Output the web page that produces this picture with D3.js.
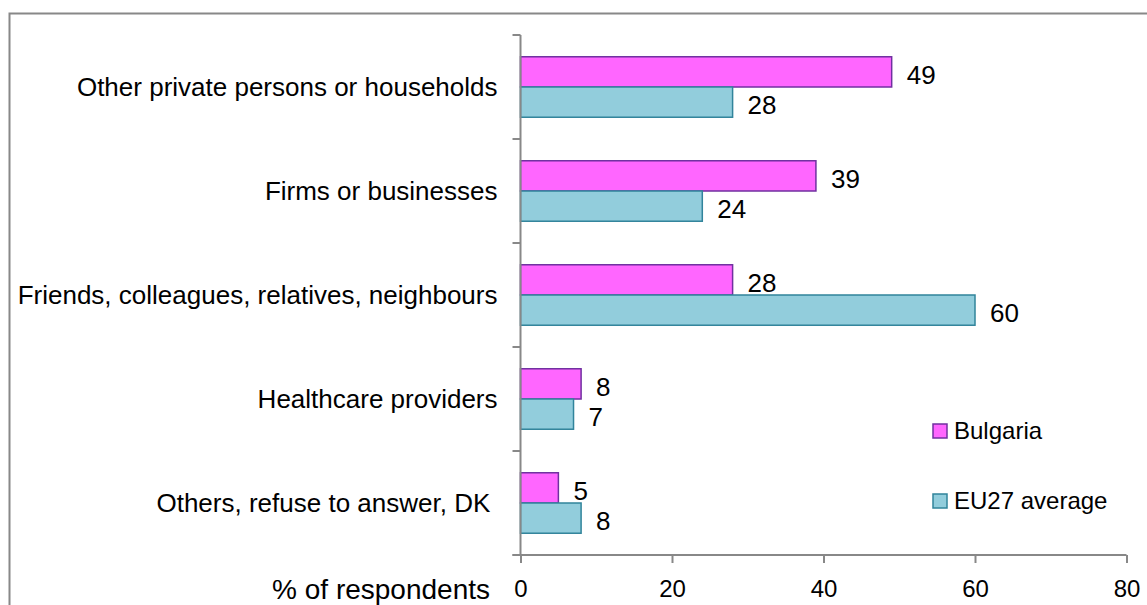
<!DOCTYPE html>
<html>
<head>
<meta charset="utf-8">
<script src="https://cdn.jsdelivr.net/npm/d3@7"></script>
<style>
  body { margin: 0; background: #fff; }
  svg { display: block; font-family: "Liberation Sans", Arial, sans-serif; }
</style>
</head>
<body>
<svg id="chart" width="1147" height="605"></svg>
<script>
var categories = [
    "Other private persons or households",
    "Firms or businesses",
    "Friends, colleagues, relatives, neighbours",
    "Healthcare providers",
    "Others, refuse to answer, DK "
];
var bulgariaValues = [49, 39, 28, 8, 5];
var euValues = [28, 24, 60, 7, 8];
var seriesNames = ["Bulgaria", "EU27 average"];
var xTicks = [0, 20, 40, 60, 80];
var axisTitle = "% of respondents";

document.addEventListener('DOMContentLoaded', function () {
    drawChart();
});

function drawChart() {
    const svg = d3.select('#chart');

    // outer frame (only top/left visible, rest runs off the page)
    svg.append('rect')
        .attr('x', 9.5).attr('y', 13.5)
        .attr('width', 1160).attr('height', 620)
        .style('fill', 'none')
        .style('stroke', '#888')
        .style('stroke-width', 2);

    const left = 520.5, right = 1126.5, top = 35, bottom = 555;

    let x = d3.scaleLinear().domain([0, 80]).range([left, right]);
    let y = d3.scaleBand().domain(categories).range([top, bottom]);
    let inner = d3.scaleBand().domain(seriesNames).range([0, y.bandwidth()]).paddingOuter(0.72);

    const fills = { "Bulgaria": "#ff66ff", "EU27 average": "#92cddc" };
    const strokes = { "Bulgaria": "#7030a0", "EU27 average": "#31849b" };

    let rows = [];
    for (var i = 0; i < categories.length; i++) {
        rows.push({ cat: categories[i], series: "Bulgaria", value: bulgariaValues[i] });
        rows.push({ cat: categories[i], series: "EU27 average", value: euValues[i] });
    }

    const g = svg.append('g');

    g.selectAll('.bar')
        .data(rows)
        .enter()
        .append('rect')
        .attr('class', 'bar')
        .attr('x', x(0))
        .attr('y', d => y(d.cat) + inner(d.series))
        .attr('width', d => x(d.value) - x(0))
        .attr('height', inner.bandwidth())
        .style('fill', d => fills[d.series])
        .style('stroke', d => strokes[d.series])
        .style('stroke-width', 1.5);

    g.selectAll('.valueLabel')
        .data(rows)
        .enter()
        .append('text')
        .attr('class', 'valueLabel')
        .attr('x', d => x(d.value) + 15)
        .attr('y', d => y(d.cat) + inner(d.series) + inner.bandwidth() / 2 + 3)
        .attr('dy', '0.35em')
        .style('font-size', '26px')
        .style('fill', '#000')
        .text(d => d.value);

    // y axis: ticks at band edges
    let yAxis = g.append('g');
    yAxis.append('line')
        .attr('x1', left).attr('x2', left)
        .attr('y1', top).attr('y2', bottom)
        .style('stroke', '#888').style('stroke-width', 2);
    let edges = categories.map(c => y(c)).concat([bottom]);
    yAxis.selectAll('.ytick')
        .data(edges)
        .enter()
        .append('line')
        .attr('x1', left - 8).attr('x2', left)
        .attr('y1', d => d).attr('y2', d => d)
        .style('stroke', '#888').style('stroke-width', 2);

    yAxis.selectAll('.catLabel')
        .data(categories)
        .enter()
        .append('text')
        .attr('x', left - 23)
        .attr('y', d => y(d) + y.bandwidth() / 2)
        .attr('dy', '0.35em')
        .attr('text-anchor', 'end')
        .style('white-space', 'pre')
        .style('font-size', '26px')
        .text(d => d);

    // x axis
    let axisBottom = d3.axisBottom(x).tickValues(xTicks).tickSize(8).tickPadding(17);
    let xg = g.append('g')
        .attr('transform', 'translate(0,' + bottom + ')')
        .call(axisBottom);
    xg.select('.domain').attr('d', 'M' + (left - 8) + ',0H' + right).style('stroke', '#888').style('stroke-width', 2);
    xg.selectAll('.tick line').style('stroke', '#888').style('stroke-width', 2);
    xg.selectAll('.tick text')
        .style('font-size', '24px')
        .style('font-family', '"Liberation Sans", Arial, sans-serif')
        .style('fill', '#000');

    g.append('text')
        .attr('x', 490)
        .attr('y', 589)
        .attr('dy', '0.35em')
        .attr('text-anchor', 'end')
        .style('font-size', '28px')
        .text(axisTitle);

    // legend
    let legend = g.selectAll('.legend')
        .data(seriesNames)
        .enter()
        .append('g')
        .attr('transform', (d, i) => 'translate(933,' + (424 + i * 70) + ')');
    legend.append('rect')
        .attr('width', 14).attr('height', 14)
        .style('fill', d => fills[d])
        .style('stroke', d => strokes[d])
        .style('stroke-width', 1.5);
    legend.append('text')
        .attr('x', 21).attr('y', 7)
        .attr('dy', '0.35em')
        .style('font-size', '24px')
        .text(d => d);
}
</script>
</body>
</html>
